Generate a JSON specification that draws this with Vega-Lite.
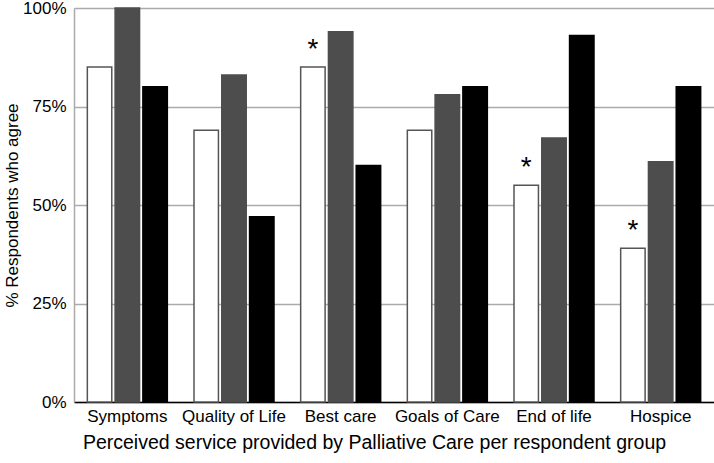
{
  "$schema": "https://vega.github.io/schema/vega-lite/v6.json",
  "width": 640,
  "height": 394,
  "autosize": {"type": "none"},
  "padding": {"left": 74, "top": 8, "right": 0, "bottom": 61},
  "background": "white",
  "config": {
    "view": {"stroke": null},
    "font": "Liberation Sans"
  },
  "data": {
    "values": [
      {"service": "Symptoms", "group": "Group 1", "pct": 85, "sig": ""},
      {"service": "Symptoms", "group": "Group 2", "pct": 100, "sig": ""},
      {"service": "Symptoms", "group": "Group 3", "pct": 80, "sig": ""},
      {"service": "Quality of Life", "group": "Group 1", "pct": 69, "sig": ""},
      {"service": "Quality of Life", "group": "Group 2", "pct": 83, "sig": ""},
      {"service": "Quality of Life", "group": "Group 3", "pct": 47, "sig": ""},
      {"service": "Best care", "group": "Group 1", "pct": 85, "sig": "*"},
      {"service": "Best care", "group": "Group 2", "pct": 94, "sig": ""},
      {"service": "Best care", "group": "Group 3", "pct": 60, "sig": ""},
      {"service": "Goals of Care", "group": "Group 1", "pct": 69, "sig": ""},
      {"service": "Goals of Care", "group": "Group 2", "pct": 78, "sig": ""},
      {"service": "Goals of Care", "group": "Group 3", "pct": 80, "sig": ""},
      {"service": "End of life", "group": "Group 1", "pct": 55, "sig": "*"},
      {"service": "End of life", "group": "Group 2", "pct": 67, "sig": ""},
      {"service": "End of life", "group": "Group 3", "pct": 93, "sig": ""},
      {"service": "Hospice", "group": "Group 1", "pct": 39, "sig": "*"},
      {"service": "Hospice", "group": "Group 2", "pct": 61, "sig": ""},
      {"service": "Hospice", "group": "Group 3", "pct": 80, "sig": ""}
    ]
  },
  "encoding": {
    "x": {
      "field": "service",
      "type": "nominal",
      "sort": null,
      "scale": {"paddingInner": 0.25, "paddingOuter": 0.125},
      "axis": {
        "title": "Perceived service provided by Palliative Care per respondent group",
        "titleFontSize": 19.5,
        "titleFontWeight": "normal",
        "titleColor": "#000",
        "titlePadding": 9,
        "titleX": 300,
        "labelFontSize": 17,
        "labelColor": "#000",
        "labelAngle": 0,
        "labelPadding": 6,
        "ticks": false,
        "domainColor": "#000",
        "domainWidth": 1.5
      }
    },
    "xOffset": {
      "field": "group",
      "type": "nominal",
      "scale": {"paddingInner": 0.12, "paddingOuter": 0}
    },
    "y": {
      "field": "pct",
      "type": "quantitative",
      "scale": {"domain": [0, 100], "nice": false},
      "axis": {
        "title": "% Respondents who agree",
        "titleFontSize": 17,
        "titleFontWeight": "normal",
        "titleColor": "#000",
        "titlePadding": 1,
        "values": [0, 25, 50, 75, 100],
        "labelExpr": "datum.value + '%'",
        "labelFontSize": 17,
        "labelColor": "#000",
        "labelPadding": 8,
        "ticks": false,
        "grid": true,
        "gridColor": "#aaaaaa",
        "gridWidth": 1.5,
        "domainColor": "#aaaaaa",
        "domainWidth": 1.5
      }
    }
  },
  "layer": [
    {
      "mark": {"type": "bar", "strokeWidth": 1.5},
      "encoding": {
        "fill": {
          "field": "group",
          "type": "nominal",
          "scale": {"domain": ["Group 1", "Group 2", "Group 3"], "range": ["#ffffff", "#4d4d4d", "#000000"]},
          "legend": null
        },
        "stroke": {
          "field": "group",
          "type": "nominal",
          "scale": {"domain": ["Group 1", "Group 2", "Group 3"], "range": ["#555555", "#4d4d4d", "#000000"]},
          "legend": null
        }
      }
    },
    {
      "mark": {"type": "text", "fontSize": 28, "baseline": "middle", "dy": -17, "color": "#000"},
      "encoding": {
        "text": {"field": "sig", "type": "nominal"}
      }
    }
  ]
}
